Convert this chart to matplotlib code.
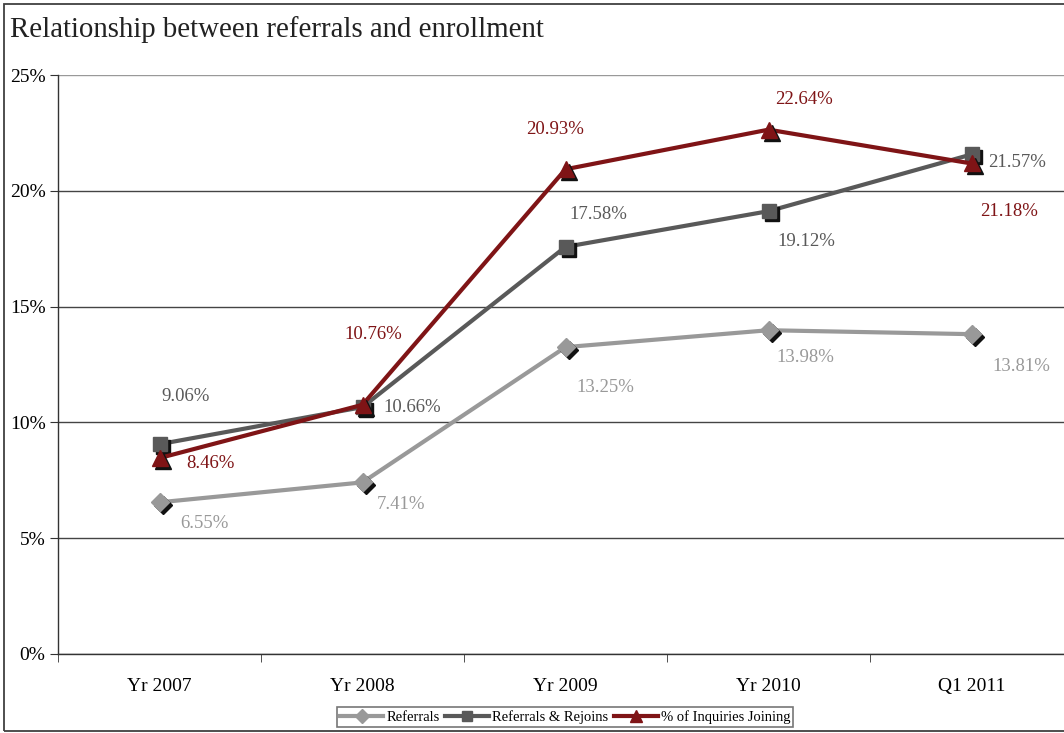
import matplotlib
matplotlib.use("Agg")
import matplotlib.pyplot as plt
from matplotlib.patches import Rectangle
from matplotlib.transforms import offset_copy

plt.rcParams['font.family'] = ['Liberation Serif', 'DejaVu Serif']

categories = ["Yr 2007", "Yr 2008", "Yr 2009", "Yr 2010", "Q1 2011"]
referrals = [6.55, 7.41, 13.25, 13.98, 13.81]
referrals_rejoins = [9.06, 10.66, 17.58, 19.12, 21.57]
inquiries_joining = [8.46, 10.76, 20.93, 22.64, 21.18]
y_ticks = [0, 5, 10, 15, 20, 25]

series = [
    ("Referrals", referrals, "#999999", "D", 9),
    ("Referrals & Rejoins", referrals_rejoins, "#595959", "s", 10),
    ("% of Inquiries Joining", inquiries_joining, "#7f1416", "^", 11),
]

# label offsets in pixels (dx right, dy up) for each series
label_offsets = [
    [(45, -21), (39, -22), (40, -40), (37, -27), (50, -32)],
    [(26, 48), (50, 0), (33, 32), (38, -30), (46, -8)],
    [(51, -5), (11, 70), (-10, 40), (36, 30), (38, -48)],
]

W, H = 1064, 733
fig = plt.figure(figsize=(W / 100, H / 100), dpi=100)
ax = fig.add_axes([58 / W, 79 / H, 1015 / W, 579 / H])

x = list(range(len(categories)))
shadow_tr = offset_copy(ax.transData, fig=fig, x=3, y=-3, units='dots')

for i, (name, vals, color, marker, ms) in enumerate(series):
    z = 3 + i
    ax.plot(x, vals, color=color, lw=3.0, zorder=z, solid_capstyle='round')
    ax.plot(x, vals, ls='none', marker=marker, ms=ms, color='#111111',
            mec='#111111', transform=shadow_tr, zorder=z + 0.1)
    ax.plot(x, vals, ls='none', marker=marker, ms=ms, color=color, mec=color,
            zorder=z + 0.2)
    for xi, v, (dx, dy) in zip(x, vals, label_offsets[i]):
        ax.annotate(f"{v:.2f}%", (xi, v), xytext=(dx, dy),
                    textcoords='offset pixels', ha='center', va='center',
                    color=color, fontsize=13.5, zorder=10)

# legend handles
handles = []
for name, vals, color, marker, ms in series:
    h, = ax.plot([], [], color=color, lw=3.0, marker=marker, ms=ms * 0.75,
                 mec=color, label=name)
    handles.append(h)

ax.set_xlim(-0.5, len(categories) - 0.5)
ax.set_ylim(0, 25)
ax.set_yticks(y_ticks)
ax.set_yticklabels([f"{t}%" for t in y_ticks], fontsize=14)
ax.set_xticks(x)
ax.set_xticklabels(categories, fontsize=14)
ax.set_xticks([i - 0.5 for i in range(len(categories) + 1)], minor=True)
ax.tick_params(axis='x', which='major', length=0, pad=17)
ax.tick_params(axis='x', which='minor', length=6, direction='out', color='#333333')
ax.tick_params(axis='y', length=6, direction='out', pad=3, color='#333333')

ax.grid(axis='y', color='#444444', lw=1.0, zorder=0)
ax.set_axisbelow(True)
ax.get_ygridlines()[-1].set_color('#999999')
for s in ['top', 'right']:
    ax.spines[s].set_visible(False)
ax.spines['left'].set_color('#333333')
ax.spines['bottom'].set_color('#333333')
ax.spines['left'].set_linewidth(1.0)
ax.spines['bottom'].set_linewidth(1.0)

fig.text(10 / W, 1 - 30 / H, "Relationship between referrals and enrollment",
         fontsize=20.8, ha='left', va='center', color='#222222')

leg = fig.legend(handles=handles, loc='center', bbox_to_anchor=(565 / W, 1 - 717 / H),
                 ncol=3, fontsize=10.5, frameon=True, fancybox=False,
                 handlelength=3.0, handletextpad=0.2, columnspacing=0.4,
                 borderpad=0.2, borderaxespad=0)
leg.get_frame().set_edgecolor('#555555')
leg.get_frame().set_linewidth(1.2)

fig.patches.append(Rectangle((4 / W, 1 - 731 / H), 1100 / W, 727 / H,
                             transform=fig.transFigure, fill=False,
                             edgecolor='#404040', lw=1.3))

fig.savefig("out.png", dpi=100)
